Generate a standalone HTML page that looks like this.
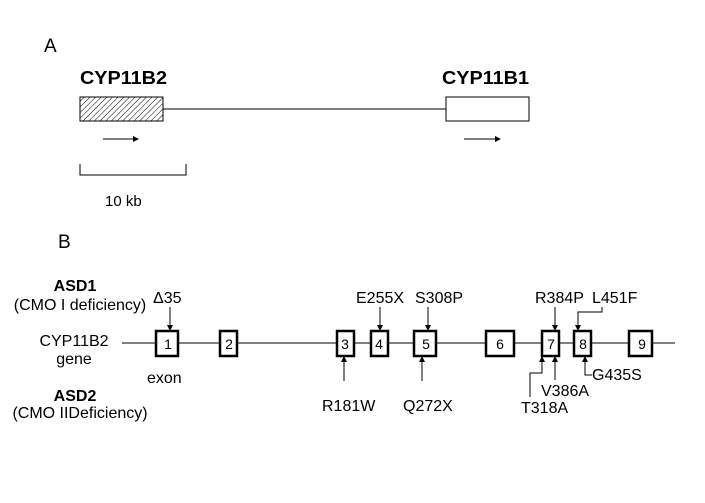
<!DOCTYPE html>
<html><head><style>body{margin:0;background:#fff}svg{display:block}text{font-family:"Liberation Sans",sans-serif;fill:#000}</style></head><body>
<svg width="705" height="503" viewBox="0 0 705 503">
<defs>
<pattern id="h" width="4" height="4" patternUnits="userSpaceOnUse" patternTransform="rotate(45)"><line x1="0" y1="0" x2="0" y2="4" stroke="#000" stroke-width="1"/></pattern>
<marker id="a" markerWidth="6" markerHeight="6" refX="5" refY="3" orient="auto" markerUnits="userSpaceOnUse"><path d="M0,0L6,3L0,6z" fill="#000"/></marker>
</defs>
<text x="44" y="52" font-size="19">A</text>
<text x="80" y="84" font-size="18" font-weight="bold" textLength="87" lengthAdjust="spacingAndGlyphs">CYP11B2</text>
<text x="442" y="84" font-size="18" font-weight="bold" textLength="87" lengthAdjust="spacingAndGlyphs">CYP11B1</text>
<rect x="80" y="97" width="83" height="24" fill="url(#h)" stroke="#000"/>
<line x1="163" y1="109" x2="446" y2="109" stroke="#000"/>
<rect x="446" y="97" width="83" height="24" fill="#fff" stroke="#000"/>
<line x1="103" y1="139" x2="138" y2="139" stroke="#000" marker-end="url(#a)"/>
<line x1="464" y1="139" x2="500" y2="139" stroke="#000" marker-end="url(#a)"/>
<path d="M80,164V175H186V164" fill="none" stroke="#000"/>
<text x="105" y="206" font-size="15">10 kb</text>
<text x="58" y="248" font-size="19">B</text>
<g font-size="16">
<text x="75" y="291" font-weight="bold" text-anchor="middle">ASD1</text>
<text x="80" y="310" text-anchor="middle">(CMO I deficiency)</text>
<text x="74" y="346" text-anchor="middle">CYP11B2</text>
<text x="74" y="364" text-anchor="middle">gene</text>
<text x="75" y="401" font-weight="bold" text-anchor="middle">ASD2</text>
<text x="80" y="418" text-anchor="middle">(CMO IIDeficiency)</text>
<text x="147" y="383">exon</text>
<text x="153" y="303">Δ35</text>
<text x="356" y="303">E255X</text>
<text x="415" y="303">S308P</text>
<text x="535" y="303">R384P</text>
<text x="592" y="303">L451F</text>
<text x="322" y="411">R181W</text>
<text x="403" y="411">Q272X</text>
<text x="592" y="380">G435S</text>
<text x="541" y="396">V386A</text>
<text x="521" y="413">T318A</text>
</g>
<line x1="122" y1="343" x2="675" y2="343" stroke="#000"/>
<g fill="#fff" stroke="#000" stroke-width="2.5">
<rect x="156" y="331" width="22" height="25"/><rect x="220" y="331" width="17" height="25"/>
<rect x="337" y="331" width="17" height="25"/><rect x="371" y="331" width="17" height="25"/>
<rect x="414" y="331" width="22" height="25"/><rect x="486" y="331" width="28" height="25"/>
<rect x="542" y="331" width="17" height="25"/><rect x="574" y="331" width="17" height="25"/>
<rect x="629" y="331" width="23" height="25"/>
</g>
<g font-size="14" text-anchor="middle">
<text x="168" y="349">1</text><text x="229" y="349">2</text><text x="345" y="349">3</text><text x="379" y="349">4</text><text x="426" y="349">5</text><text x="500" y="349">6</text><text x="551" y="349">7</text><text x="583" y="349">8</text><text x="642" y="349">9</text>
</g>
<g stroke="#000" fill="none" marker-end="url(#a)">
<line x1="170" y1="307" x2="170" y2="330"/>
<line x1="380" y1="307" x2="380" y2="330"/>
<line x1="428" y1="307" x2="428" y2="330"/>
<line x1="555" y1="307" x2="555" y2="330"/>
<path d="M602,307V312H578V330"/>
<line x1="344" y1="381" x2="344" y2="357"/>
<line x1="422" y1="381" x2="422" y2="357"/>
<line x1="555" y1="380" x2="555" y2="357"/>
<path d="M530,397V373H542V357"/>
<path d="M592,375H585V357"/>
</g>
</svg>
</body></html>
